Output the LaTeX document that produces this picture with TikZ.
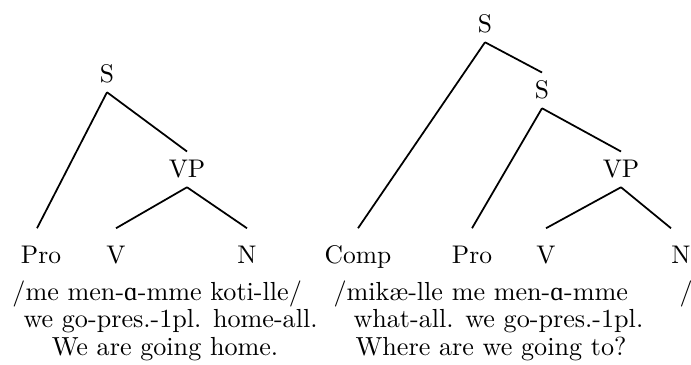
\documentclass[tikz,border=0pt]{standalone}
\usepackage{fontspec}
\newfontfamily\ipafont{Liberation Serif}
\newcommand{\alv}{{\ipafont ɑ}}
\begin{document}
\begin{tikzpicture}[x=0.4pt,y=-0.4pt,
  every node/.style={font=\fontsize{10.2}{12}\selectfont},
  tn/.style={inner xsep=0pt,inner ysep=3.5pt,text height=6.9pt,text depth=0pt,anchor=base},
  leaf/.style={tn,inner ysep=6.8pt},
  gl/.style={inner sep=0pt,font=\fontsize{10.45}{12}\selectfont},
  branch/.style={line width=0.7pt}]
\useasboundingbox (0,0) rectangle (691,365);

% left tree
\node[tn] (lS) at (107,83) {S};
\node[tn] (lVP) at (187,178) {VP};
\node[leaf] (lPro) at (41,263) {Pro};
\node[leaf] (lV) at (116,263) {V};
\node[leaf] (lN) at (247,263) {N};
\draw[branch] (lS.south) -- ([xshift=-1.6pt]lPro.north);
\draw[branch] (lS.south) -- (lVP.north);
\draw[branch] (lVP.south) -- (lV.north);
\draw[branch] (lVP.south) -- (lN.north);

\node[gl,anchor=base west] (lg1) at (12,300) {/me men-\alv-mme koti-lle/};
\node[gl,anchor=base west] (lg2) at (23,327) {we go-pres.-1pl. home-all.};
\node[gl,anchor=base] (lg3) at (165,355) {We are going home.};

% right tree
\node[tn] (rS) at (485,33) {S};
\node[tn] (rS2) at (542,99) {S};
\node[tn] (rVP) at (621,178) {VP};
\node[leaf] (rComp) at (358,263) {Comp};
\node[leaf] (rPro) at (472,263) {Pro};
\node[leaf] (rV) at (546,263) {V};
\node[leaf] (rN) at (681,263) {N};
\draw[branch] (rS.south) -- (rComp.north);
\draw[branch] (rS.south) -- (rS2.north);
\draw[branch] (rS2.south) -- (rPro.north);
\draw[branch] (rS2.south) -- (rVP.north);
\draw[branch] (rVP.south) -- (rV.north);
\draw[branch] (rVP.south) -- ([xshift=-4pt]rN.north);

\node[gl,anchor=base west] (rg1) at (333,300) {/mikæ-lle me men-\alv-mme};
\node[gl,anchor=base west] (rg1b) at (679,300) {/};
\node[gl,anchor=base west] (rg2) at (353,327) {what-all. we go-pres.-1pl.};
\node[gl,anchor=base] (rg3) at (491,355) {Where are we going to?};
\end{tikzpicture}
\end{document}
